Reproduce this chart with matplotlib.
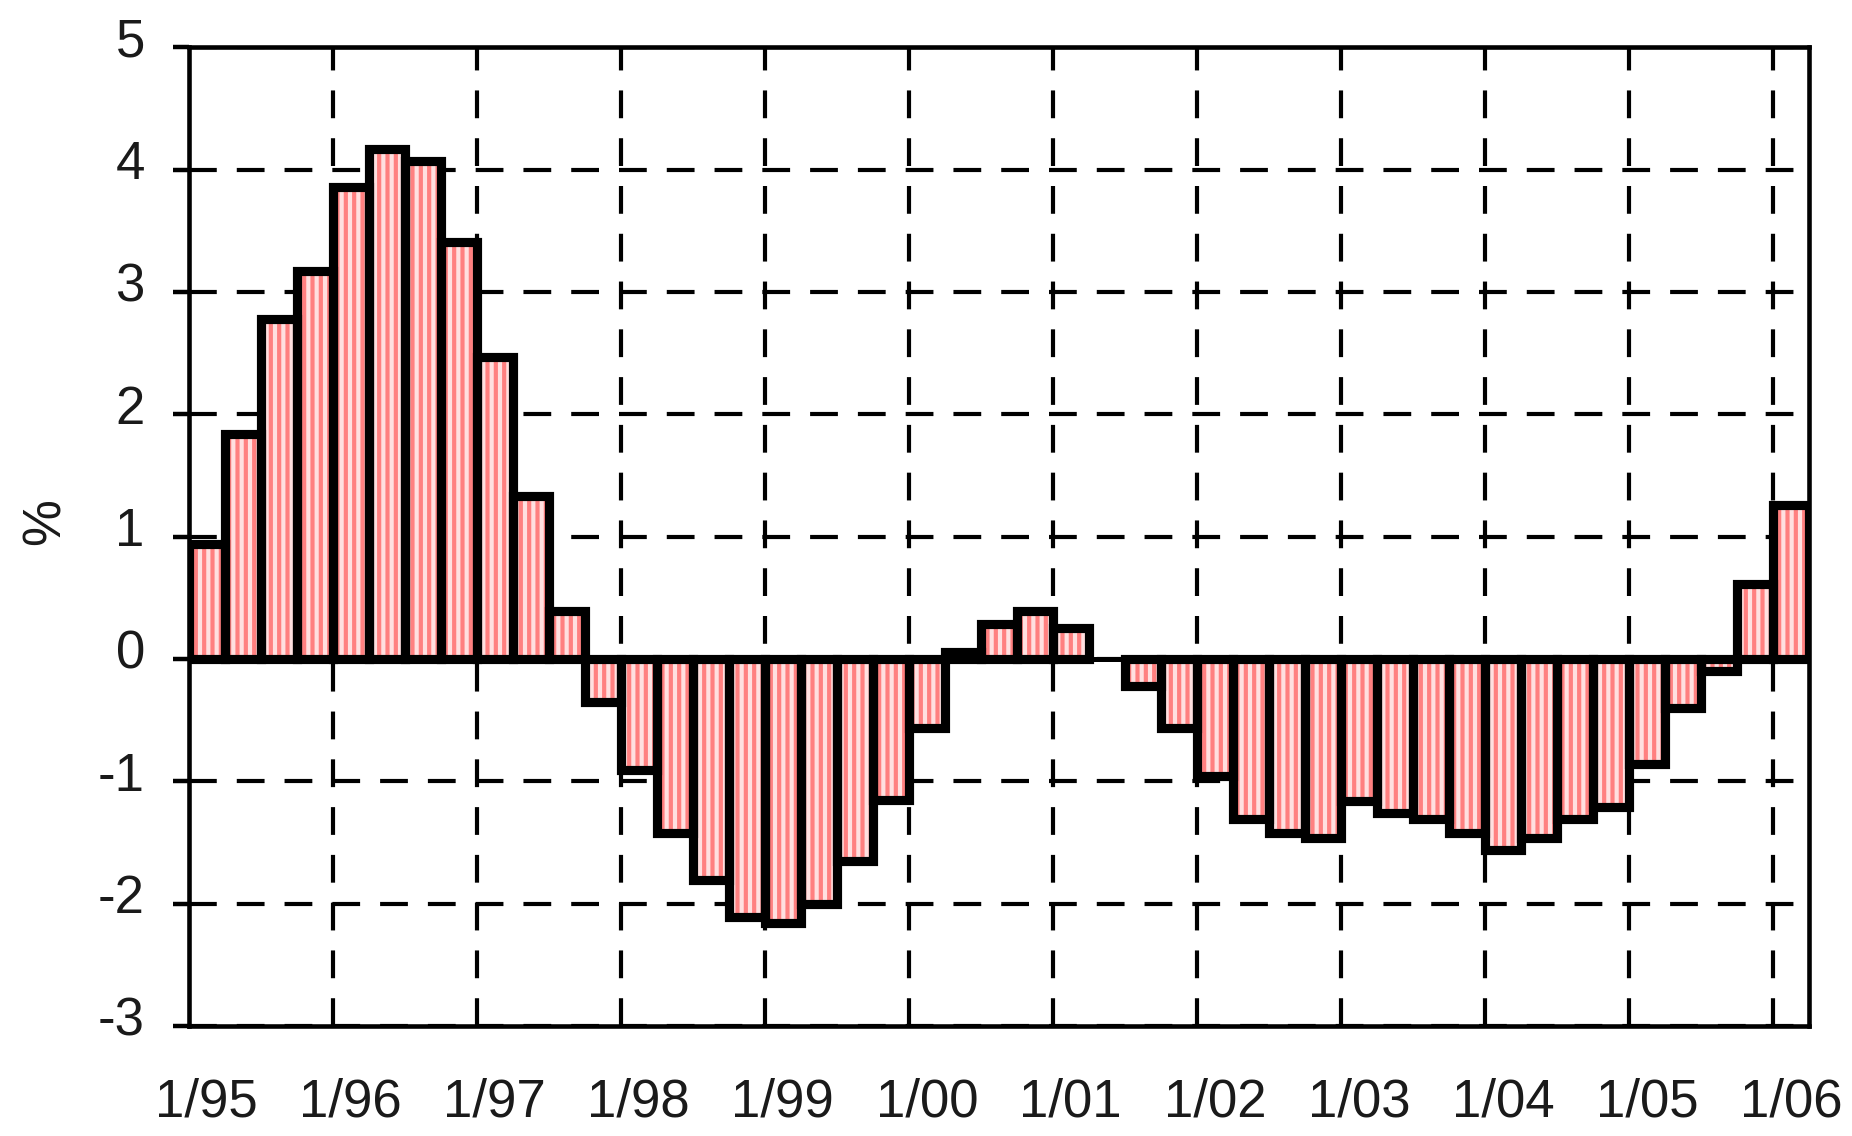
import numpy as np
import matplotlib
matplotlib.use("Agg")
import matplotlib.pyplot as plt
from matplotlib.transforms import ScaledTranslation

# =========================================================
# 1. DATA (quarterly, Q1 1995 .. Q1 2006, %)
# =========================================================

values = [
    0.94, 1.84, 2.78, 3.17,      # 1995
    3.86, 4.17, 4.07, 3.41,      # 1996
    2.47, 1.33, 0.39, -0.35,     # 1997
    -0.91, -1.42, -1.81, -2.11,  # 1998
    -2.16, -2.00, -1.65, -1.15,  # 1999
    -0.56, 0.06, 0.29, 0.39,     # 2000
    0.25, 0.00, -0.22, -0.56,    # 2001
    -0.96, -1.31, -1.42, -1.46,  # 2002
    -1.16, -1.26, -1.31, -1.42,  # 2003
    -1.56, -1.46, -1.31, -1.21,  # 2004
    -0.86, -0.40, -0.10, 0.61,   # 2005
    1.26,                        # 2006
]

year_labels = ['1/95', '1/96', '1/97', '1/98', '1/99', '1/00',
               '1/01', '1/02', '1/03', '1/04', '1/05', '1/06']

y_ticks = [-3, -2, -1, 0, 1, 2, 3, 4, 5]

# =========================================================
# 2. STYLE
# =========================================================

plt.rcParams['font.family'] = ['Liberation Sans', 'DejaVu Sans']
plt.rcParams['hatch.linewidth'] = 3.0

pink = '#FF8080'
light_pink = '#FFE0E0'
dash = (0, (20 / 3, 14.4 / 3))

x = np.arange(len(values))

fig = plt.figure(figsize=(18.52, 11.36), dpi=100)
ax = fig.add_axes([0.1018, 0.0968, 0.875, 0.8616])

# =========================================================
# 3. BARS (striped fill, then thick black outline)
# =========================================================

ax.bar(x, values, width=1.0, facecolor=light_pink, edgecolor=pink,
       hatch='||', linewidth=0, zorder=2)

outline = ['black' if v != 0 else 'none' for v in values]
ax.bar(x, values, width=1.0, facecolor='none', edgecolor=outline,
       linewidth=6.6, zorder=3)

ax.axhline(0, color='black', linewidth=3.6, zorder=4)

# =========================================================
# 4. AXES, GRID, LABELS
# =========================================================

ax.set_xlim(-0.5, len(values) - 0.5)
ax.set_ylim(-3, 5)

ax.set_yticks(y_ticks)
ax.set_yticklabels([str(t) for t in y_ticks])

year_starts = x[::4]
ax.set_xticks(year_starts[1:] - 0.5)
ax.set_xticklabels([])
ax.set_xticks(year_starts, minor=True)
ax.set_xticklabels(year_labels, minor=True)

ax.tick_params(axis='x', which='both', length=0, pad=37,
               labelsize=38, labelcolor='#1a1a1a')
ax.tick_params(axis='y', direction='out', length=11.5, width=3.2,
               pad=20, labelsize=38, labelcolor='#1a1a1a')

# nudge y tick labels up a bit, like the original
for lab in ax.get_yticklabels():
    lab.set_transform(lab.get_transform()
                      + ScaledTranslation(0, 10 / 100, fig.dpi_scale_trans))

ax.grid(True, axis='y', color='black', linewidth=3.0, linestyle=dash)
ax.grid(True, axis='x', which='major', color='black', linewidth=3.0,
        linestyle=dash)
ax.set_axisbelow(True)

for side in ['left', 'right', 'top', 'bottom']:
    ax.spines[side].set_linewidth(3.3)
    ax.spines[side].set_zorder(5)

ax.set_ylabel('%', fontsize=38, color='#1a1a1a')
ax.yaxis.set_label_coords(-0.0725, 0.515)

fig.savefig('out.png', dpi=100)
